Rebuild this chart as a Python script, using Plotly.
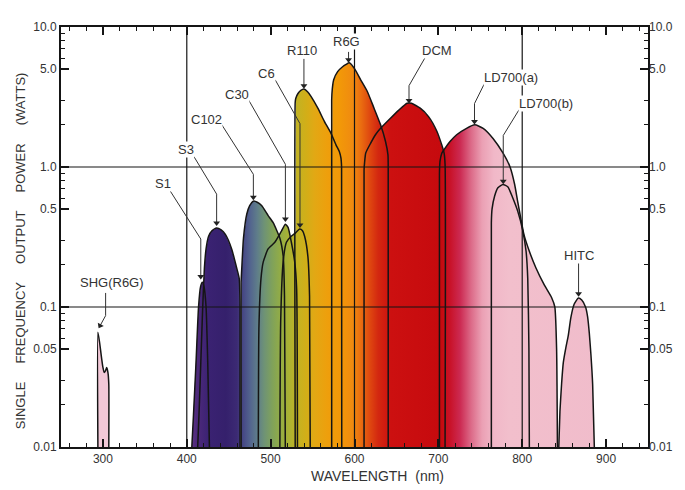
import numpy as np
import plotly.graph_objects as go

# ---------------- data: tuning curves (wavelength nm, power W) ----------------
shg_wl = [294, 294, 296, 298, 300, 301.5, 303, 304.5, 306, 307, 307]
shg_pw = [0.01, 0.066, 0.056, 0.045, 0.037, 0.034, 0.035, 0.037, 0.034, 0.028, 0.01]

s1_wl = [406, 408, 411, 414, 416.5, 418.5, 420.5, 423, 425, 427]
s1_pw = [0.01, 0.017, 0.04, 0.1, 0.14, 0.15, 0.14, 0.1, 0.04, 0.01]

s3_wl = [413, 415, 417, 419, 421, 423, 426, 430, 435.5, 441, 446, 453.5, 459.5, 462.5, 463.5, 463.5]
s3_pw = [0.01, 0.02, 0.045, 0.1, 0.19, 0.26, 0.32, 0.35, 0.366, 0.355, 0.33, 0.26, 0.19, 0.16, 0.1, 0.01]

c102_wl = [464.8, 464.8, 465.6, 467.6, 471.5, 475, 479.4, 484, 489.2, 497, 503, 511, 515, 516.5, 517.5]
c102_pw = [0.01, 0.15, 0.19, 0.31, 0.46, 0.53, 0.57, 0.56, 0.53, 0.45, 0.40, 0.31, 0.23, 0.12, 0.01]

c30_wl = [485.3, 486, 488.5, 491.2, 497, 505, 513, 517.6, 520.8, 524.7, 528.7, 531, 532]
c30_pw = [0.01, 0.07, 0.16, 0.21, 0.26, 0.29, 0.35, 0.39, 0.37, 0.29, 0.21, 0.135, 0.01]

c6_wl = [511, 512, 514.9, 518.8, 524.5, 530, 534.6, 538, 540.5, 544.4, 546.4, 547.2]
c6_pw = [0.01, 0.08, 0.21, 0.29, 0.32, 0.34, 0.36, 0.35, 0.32, 0.23, 0.12, 0.01]

r110_wl = [529.3, 529.3, 530, 532.6, 536, 539.7, 544, 548.3, 556.3, 564.2, 572, 577.9, 581.9, 583.8, 584.6, 584.8]
r110_pw = [0.01, 2.9, 3.1, 3.35, 3.52, 3.6, 3.45, 3.18, 2.63, 2.11, 1.74, 1.44, 1.29, 1.16, 1.0, 0.01]

r6g_wl = [572.8, 572.8, 573.5, 575.2, 579.9, 585.8, 590, 593.7, 600.4, 607.5, 615.4, 623.3, 631.1, 637, 639.9, 640.2, 640.2]
r6g_pw = [0.01, 3.0, 3.6, 4.2, 4.8, 5.2, 5.4, 5.55, 5.0, 4.18, 3.45, 2.63, 2.0, 1.52, 1.22, 1.0, 0.01]

dcm_wl = [611.4, 611.4, 612, 613.4, 619.3, 625, 631.1, 642.9, 652.9, 662.7, 668, 678.4, 688.3, 698.2, 704, 706.8, 708, 708]
dcm_pw = [0.01, 0.95, 1.07, 1.26, 1.48, 1.7, 1.89, 2.23, 2.55, 2.85, 2.85, 2.63, 2.29, 1.8, 1.44, 1.26, 1.04, 0.01]

ld700a_wl = [701.3, 701.3, 702, 704, 706.8, 713.9, 721.8, 733.6, 743.4, 753.4, 765.2, 777, 785.5,
             791, 794.5, 798.3, 802, 808.5, 816.4, 826, 835, 838.9, 841, 842]
ld700a_pw = [0.01, 0.9, 1.1, 1.25, 1.33, 1.52, 1.7, 1.89, 2.0, 1.89, 1.6, 1.26, 1.0,
             0.75, 0.57, 0.43, 0.33, 0.25, 0.19, 0.145, 0.117, 0.1, 0.05, 0.01]

ld700b_wl = [763.2, 763.2, 764, 767.1, 771, 777, 783, 788.8, 794.8, 800.7, 804.6, 806.6, 808, 808.5]
ld700b_pw = [0.01, 0.4, 0.5, 0.62, 0.71, 0.75, 0.72, 0.6, 0.48, 0.35, 0.25, 0.16, 0.05, 0.01]

hitc_wl = [843.6, 845, 847, 849, 852, 855, 858, 862, 867, 871, 875.5, 878, 880, 882, 884, 886]
hitc_pw = [0.01, 0.018, 0.0285, 0.04, 0.051, 0.063, 0.084, 0.105, 0.116, 0.112, 0.1, 0.085, 0.065, 0.045, 0.028, 0.01]

dye_names = ["S1", "S3", "C102", "C30", "C6", "R110", "R6G", "DCM", "LD700(a)", "LD700(b)", "HITC"]
dye_wl = [s1_wl, s3_wl, c102_wl, c30_wl, c6_wl, r110_wl, r6g_wl, dcm_wl, ld700a_wl, ld700b_wl, hitc_wl]
dye_pw = [s1_pw, s3_pw, c102_pw, c30_pw, c6_pw, r110_pw, r6g_pw, dcm_pw, ld700a_pw, ld700b_pw, hitc_pw]

# spectral colour gradient (wavelength nm -> colour)
spec_wl = [400, 410, 425, 445, 458, 466, 474, 482, 490, 500, 510, 520, 530, 540, 550, 565, 580,
           595, 605, 615, 625, 640, 700, 710, 722, 735, 748, 762, 780, 900]
spec_col = ['#6a3a8a', '#4f2a7c', '#3a2272', '#35206c', '#3c2a74', '#474a86', '#53658e', '#5f7d8a',
            '#6e9276', '#80a25a', '#94ad44', '#acb232', '#c4b222', '#d2ae18', '#e2a814', '#ee9f0c',
            '#f29808', '#f08a10', '#ea6c10', '#df4810', '#d32810', '#cc1010', '#c60a0e', '#c81228',
            '#cc2a52', '#dc6a88', '#eba0b4', '#f1b8c8', '#f2bfcc', '#f0bccb']

# axis ticks
x_ticks = [300, 400, 500, 600, 700, 800, 900]
y_ticks = [0.01, 0.05, 0.1, 0.5, 1, 5, 10]
y_tick_text = ["0.01", "0.05", "0.1", "0.5", "1.0", "5.0", "10.0"]
y_minor = [0.02, 0.03, 0.06, 0.07, 0.08, 0.09, 0.2, 0.3, 0.6, 0.7, 0.8, 0.9, 2, 3, 6, 7, 8, 9]
grid_x = [400, 600, 800]
grid_y = [0.1, 1]

# labels (wavelength, watts) and leader lines
label_names = ["SHG(R6G)", "S1", "S3", "C102", "C30", "C6", "R110", "R6G", "DCM", "LD700(a)", "LD700(b)", "HITC"]
label_x = [310.3, 372, 399, 423.8, 459.3, 494.8, 537.3, 590.5, 698.2, 786.8, 828.2, 867.2]
label_y = [0.149, 0.766, 1.34, 2.18, 3.29, 4.63, 6.75, 7.82, 6.75, 4.34, 2.84, 0.232]
leaders = [
    [(303.2, 0.126), (303.2, 0.0868), (296.6, 0.0735)],
    [(378.9, 0.694), (416.7, 0.306), (416.7, 0.165)],
    [(408.4, 1.19), (435.6, 0.64), (435.6, 0.398)],
    [(441.6, 2.01), (479.4, 0.887), (479.4, 0.609)],
    [(473.5, 3.03), (517.6, 1.045), (517.6, 0.425)],
    [(505.4, 4.20), (526.7, 2.49), (535.0, 2.04), (535.0, 0.385)],
    [(539.7, 5.93), (539.7, 3.81)],
    [(592.9, 6.64), (592.9, 5.83)],
    [(684.0, 6.02), (665.0, 3.81), (665.0, 2.98)],
    [(754.9, 3.94), (743.1, 2.84), (743.1, 2.11)],
    [(796.3, 2.57), (777.4, 1.68), (777.4, 0.791)],
    [(867.2, 0.2065), (867.2, 0.1245)],
]
arrow_angle = [29, 0, 0, 0, 0, 0, 0, 0, 0, 0, 0, 0]

# ---------------- figure ----------------
FONT = "Liberation Sans, Arial, sans-serif"
INK = "#151515"
grad = [[(w - spec_wl[0]) / (spec_wl[-1] - spec_wl[0]), c] for w, c in zip(spec_wl, spec_col)]

fig = go.Figure()

# fills
fig.add_trace(go.Scatter(x=shg_wl, y=shg_pw, mode="lines", fill="toself",
                         fillcolor="rgba(238,182,202,0.75)", line=dict(width=0),
                         hoverinfo="skip", showlegend=False))
for name, xs, ys in zip(dye_names, dye_wl, dye_pw):
    fig.add_trace(go.Scatter(
        x=xs, y=ys, mode="lines", fill="toself", line=dict(width=0),
        fillgradient=dict(type="horizontal", colorscale=grad,
                          start=spec_wl[0], stop=spec_wl[-1]),
        name=name, hoverinfo="skip", showlegend=False))

# grid lines (drawn over the fills as in the original)
for gx in grid_x:
    fig.add_trace(go.Scatter(x=[gx, gx], y=[0.01, 10], mode="lines",
                             line=dict(color=INK, width=1.2), hoverinfo="skip", showlegend=False))
for gy in grid_y:
    fig.add_trace(go.Scatter(x=[250, 950], y=[gy, gy], mode="lines",
                             line=dict(color=INK, width=1.2), hoverinfo="skip", showlegend=False))

# outlines
for name, xs, ys in zip(["SHG(R6G)"] + dye_names, [shg_wl] + dye_wl, [shg_pw] + dye_pw):
    fig.add_trace(go.Scatter(x=xs, y=ys, mode="lines", name=name,
                             line=dict(color=INK, width=1.5, shape="spline", smoothing=0.5),
                             showlegend=False))

# leader lines + arrow heads
for pts in leaders:
    fig.add_trace(go.Scatter(x=[p[0] for p in pts], y=[p[1] for p in pts], mode="lines",
                             line=dict(color="#333333", width=1), hoverinfo="skip", showlegend=False))
fig.add_trace(go.Scatter(x=[pts[-1][0] for pts in leaders], y=[pts[-1][1] for pts in leaders],
                         mode="markers", hoverinfo="skip", showlegend=False,
                         marker=dict(symbol="triangle-down", size=6, color="#222222", angle=arrow_angle)))

# dummy trace for the right-hand axis
fig.add_trace(go.Scatter(x=[None], y=[None], yaxis="y2", showlegend=False, hoverinfo="skip"))

annotations = []
for t, lx, ly in zip(label_names, label_x, label_y):
    annotations.append(dict(x=lx, y=np.log10(ly), xref="x", yref="y", text=t, showarrow=False,
                            font=dict(family=FONT, size=13, color="#333333"),
                            bgcolor="white", borderpad=0))
gap = "\u00a0" * 5
annotations.append(dict(x=0.539, y=-0.069, xref="paper", yref="paper", yanchor="middle",
                        text="WAVELENGTH\u00a0\u00a0(nm)", showarrow=False,
                        font=dict(family=FONT, size=14, color="#333333")))
annotations.append(dict(x=-0.069, y=0.467, xref="paper", yref="paper", textangle=-90,
                        xanchor="center", yanchor="middle",
                        text=gap.join(["SINGLE", "FREQUENCY", "OUTPUT", "POWER", "(WATTS)"]),
                        showarrow=False, font=dict(family=FONT, size=13, color="#333333")))

# page body has an 8px margin, so the figure is sized to fit the 685x490 window
fig.update_layout(
    width=677, height=482,
    margin=dict(l=53, r=32, t=17, b=43),
    paper_bgcolor="white", plot_bgcolor="white",
    showlegend=False,
    font=dict(family=FONT, size=12, color="#333333"),
    annotations=annotations,
    xaxis=dict(range=[250, 950], tickvals=x_ticks, ticks="inside", ticklen=8, tickwidth=1.5,
               tickcolor=INK, showline=True, linewidth=2, linecolor=INK, mirror="ticks",
               showgrid=False, zeroline=False,
               tickfont=dict(family=FONT, size=12, color="#333333"),
               minor=dict(tick0=0, dtick=20, ticks="inside", ticklen=4, tickwidth=1.2, tickcolor=INK)),
    yaxis=dict(type="log", range=[-2, 1], tickvals=y_ticks, ticktext=y_tick_text,
               ticks="inside", ticklen=8, tickwidth=1.5, tickcolor=INK,
               showline=True, linewidth=2, linecolor=INK, mirror=True,
               showgrid=False, zeroline=False,
               tickfont=dict(family=FONT, size=12, color="#333333"),
               minor=dict(tickvals=y_minor, ticks="inside", ticklen=4, tickwidth=1.2, tickcolor=INK)),
    yaxis2=dict(type="log", range=[-2, 1], overlaying="y", side="right", anchor="x",
                tickvals=y_ticks, ticktext=y_tick_text,
                ticks="inside", ticklen=8, tickwidth=1.5, tickcolor=INK,
                showline=False, showgrid=False, zeroline=False,
                tickfont=dict(family=FONT, size=12, color="#333333"),
                minor=dict(tickvals=y_minor, ticks="inside", ticklen=4, tickwidth=1.2, tickcolor=INK)),
)

fig.write_html("out.html")
